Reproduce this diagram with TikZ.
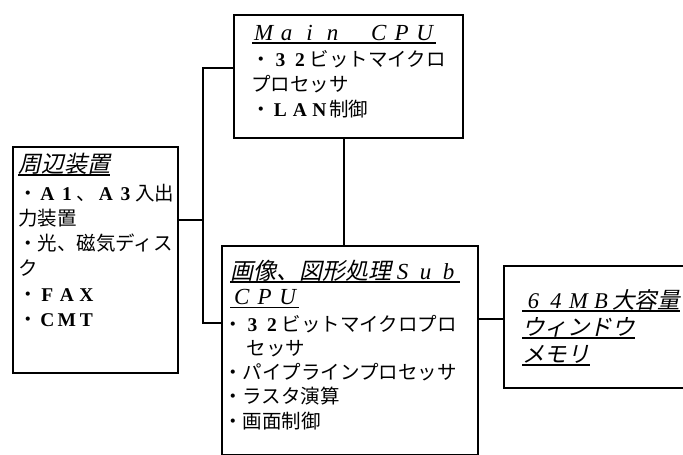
\documentclass[tikz,border=0pt]{standalone}
\usepackage{fontspec}
\setmainfont{Noto Sans CJK JP}
\newfontfamily\jpfont{Noto Sans CJK JP}
\newfontfamily\jpitfont{Noto Sans CJK JP}[FakeSlant=0.22]
\newfontfamily\lserif{Liberation Serif}
\newcommand{\fw}[1]{\makebox[1em]{\lserif\bfseries #1}}
\newcommand{\fwi}[1]{\makebox[1em]{\lserif\itshape #1}}
\newcommand{\ulx}[1]{\leavevmode\setbox0\hbox{#1}\rlap{\raisebox{-3.5pt}{\rule{\wd0}{1.2pt}}}\box0}
\newcommand{\bodyfnt}{\jpfont\fontsize{19.5}{25.3}\selectfont}
\newcommand{\titlefnt}{\jpitfont\fontsize{23}{25.5}\selectfont}
\tikzset{
  blk/.style={draw, line width=1.8pt, inner sep=0pt, anchor=north west},
  lbl/.style={inner sep=0pt, anchor=base west},
  conn/.style={line width=1.6pt}
}
\begin{document}
\begin{tikzpicture}[x=1pt,y=-1pt]
\useasboundingbox (0,0) rectangle (683,455);
\clip (0,0) rectangle (683,455);
% boxes
\node[blk, minimum width=229pt, minimum height=123pt] (main) at (233,14) {};
\node[blk, minimum width=165pt, minimum height=226pt] (periph) at (12,146) {};
\node[blk, minimum width=256pt, minimum height=209pt] (sub) at (221,245) {};
\node[blk, minimum width=186pt, minimum height=122pt] (mem) at (503,265) {};
% Main CPU text
\node[lbl] (mainT) at (252,40) {\parbox[t]{215pt}{\titlefnt\ulx{\fwi{M}\fwi{a}\fwi{i}\fwi{n}\fwi{ }\fwi{C}\fwi{P}\fwi{U}}}};
\node[lbl] (mainB) at (251,66) {\parbox[t]{215pt}{\bodyfnt\fontsize{19.5}{25.5}\selectfont ・\fw{3}\fw{2}ビットマイクロ\par プロセッサ\par ・\fw{L}\fw{A}\fw{N}制御}};
% peripheral text
\node[lbl] (perT) at (18,172) {\parbox[t]{160pt}{\titlefnt\ulx{周辺装置}}};
\node[lbl] (perB) at (18,200) {\parbox[t]{160pt}{\bodyfnt ・\fw{A}\fw{1}、\fw{A}\fw{3}入出\par 力装置\par ・光、磁気ディス\par ク\par ・\fw{F}\fw{A}\fw{X}\par ・\fw{C}\fw{M}\fw{T}}};
% Sub CPU text
\node[lbl] (subT) at (230,279) {\parbox[t]{245pt}{\titlefnt\ulx{画像、図形処理\fwi{S}\fwi{u}\fwi{b}}\par \ulx{\fwi{C}\fwi{P}\fwi{U}}}};
\node[lbl] (subB) at (223,331) {\parbox[t]{250pt}{\bodyfnt\fontsize{19.5}{24.3}\selectfont ・\fw{3}\fw{2}ビットマイクロプロ\par \hspace*{1.2em}セッサ\par ・パイプラインプロセッサ\par ・ラスタ演算\par ・画面制御}};
% memory text
\node[lbl] (memT) at (522,308) {\parbox[t]{165pt}{\jpitfont\fontsize{22.5}{27}\selectfont\ulx{\fwi{6}\fwi{4}\fwi{M}\fwi{B}大容量}\par \ulx{ウィンドウ}\par \ulx{メモリ}}};
% connectors
\coordinate (j1) at (203,68);
\coordinate (j2) at (203,323);
\coordinate (jp) at (203,220);
\coordinate (cv) at (344,190);
\coordinate (cm) at (490,319);
\draw[conn] (j1 -| main.west) -- (j1) -- (j2) -- (j2 -| sub.west);
\draw[conn] (jp -| periph.east) -- (jp);
\draw[conn] (cv |- main.south) -- (cv |- sub.north);
\draw[conn] (cm -| sub.east) -- (cm -| mem.west);
\end{tikzpicture}
\end{document}
